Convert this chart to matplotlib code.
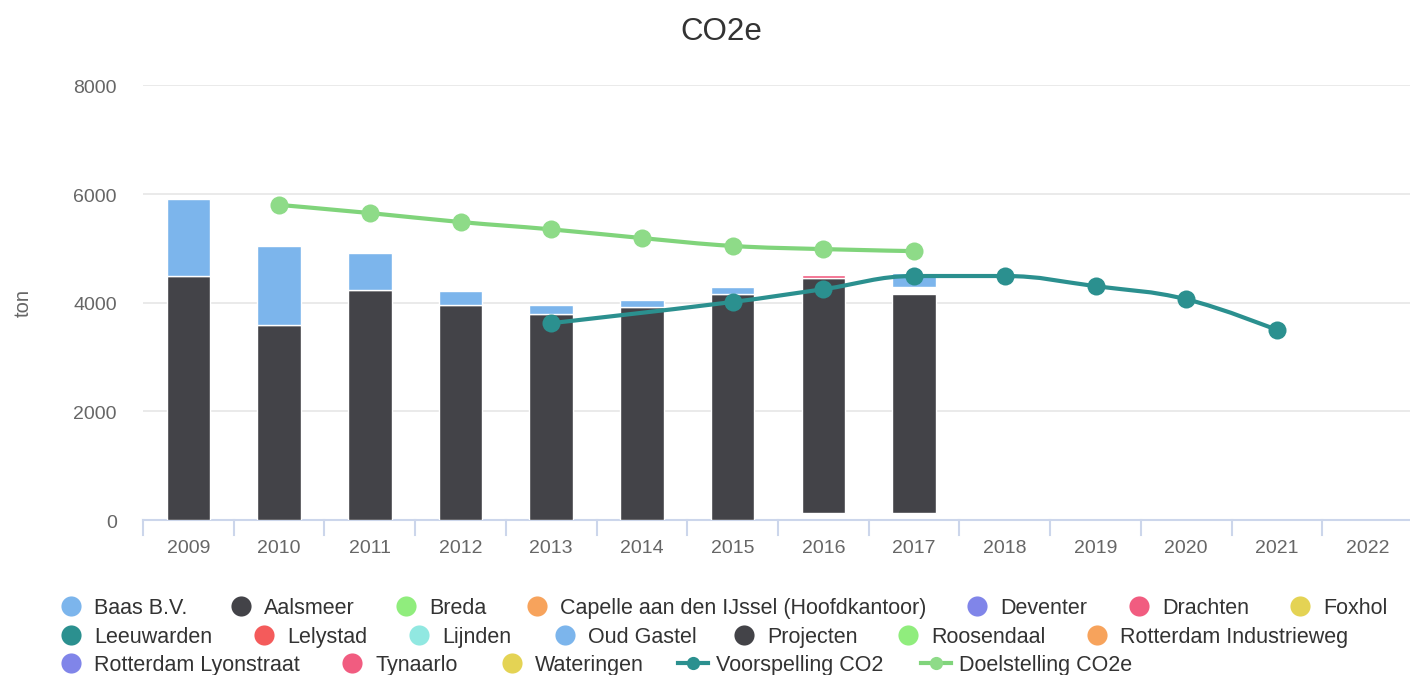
import numpy as np
import matplotlib
matplotlib.use("Agg")
import matplotlib.pyplot as plt
import matplotlib.transforms as mtransforms
from matplotlib.path import Path
from matplotlib.patches import PathPatch
from matplotlib.lines import Line2D

plt.rcParams['font.family'] = ['Liberation Sans', 'DejaVu Sans']

# ---------------- data ----------------
categories = ['2009', '2010', '2011', '2012', '2013', '2014', '2015',
              '2016', '2017', '2018', '2019', '2020', '2021', '2022']

# stacked column series (tons CO2e); zeros where a series has no value
aalsmeer   = [4490, 3590, 4230, 3950, 3795, 3925, 4155, 0, 0, 0, 0, 0, 0, 0]
baas_bv    = [1410, 1450, 680, 265, 165, 130, 135, 0, 0, 0, 0, 0, 0, 0]
projecten  = [0, 0, 0, 0, 0, 0, 0, 4315, 4025, 0, 0, 0, 0, 0]
drachten   = [0, 0, 0, 0, 0, 0, 0, 65, 0, 0, 0, 0, 0, 0]
oud_gastel = [0, 0, 0, 0, 0, 0, 0, 0, 257, 0, 0, 0, 0, 0]
# empty (unfilled) parts of the 2016/2017 stacks
leeg_onder  = [0, 0, 0, 0, 0, 0, 0, 130, 130, 0, 0, 0, 0, 0]
leeg_midden = [0, 0, 0, 0, 0, 0, 0, 0, 130, 0, 0, 0, 0, 0]

# line series (None = no point)
voorspelling_co2 = [None, None, None, None, 3620, None, 4010, 4245, 4487, 4487, 4300, 4060, 3494, None]
doelstelling_co2e = [None, 5795, 5645, 5480, 5345, 5185, 5040, 4982, 4945, None, None, None, None, None]

legend_names = ['Baas B.V.', 'Aalsmeer', 'Breda', 'Capelle aan den IJssel (Hoofdkantoor)',
                'Deventer', 'Drachten', 'Foxhol', 'Leeuwarden', 'Lelystad', 'Lijnden',
                'Oud Gastel', 'Projecten', 'Roosendaal', 'Rotterdam Industrieweg',
                'Rotterdam Lyonstraat', 'Tynaarlo', 'Wateringen',
                'Voorspelling CO2', 'Doelstelling CO2e']

# ---------------- style ----------------
C = {
    'Baas B.V.': '#7cb5ec', 'Aalsmeer': '#434348', 'Breda': '#90ed7d',
    'Capelle aan den IJssel (Hoofdkantoor)': '#f7a35c', 'Deventer': '#8085e9',
    'Drachten': '#f15c80', 'Foxhol': '#e4d354', 'Leeuwarden': '#2b908f',
    'Lelystad': '#f45b5b', 'Lijnden': '#91e8e1', 'Oud Gastel': '#7cb5ec',
    'Projecten': '#434348', 'Roosendaal': '#90ed7d',
    'Rotterdam Industrieweg': '#f7a35c', 'Rotterdam Lyonstraat': '#8085e9',
    'Tynaarlo': '#f15c80', 'Wateringen': '#e4d354',
    'Voorspelling CO2': '#2b908f', 'Doelstelling CO2e': '#80d47b',
}
GREEN_MARKER = '#8edb88'

W, H = 1410, 675
fig = plt.figure(figsize=(W / 100, H / 100), dpi=100)
pix = mtransforms.Affine2D().scale(1 / W, -1 / H).translate(0, 1) + fig.transFigure

ax = fig.add_axes([143 / W, (H - 520) / H, 1270 / W, 435 / H])
ax.set_xlim(-0.5, len(categories) - 0.5)
ax.set_ylim(0, 8000)
ax.set_yticks([0, 2000, 4000, 6000, 8000])
ax.yaxis.grid(True, color='#e6e6e6', lw=1.2, zorder=0)
ax.set_axisbelow(True)
ax.tick_params(length=0, labelleft=False, labelbottom=False)
for s in ['top', 'right', 'left']:
    ax.spines[s].set_visible(False)
ax.spines['bottom'].set_color('#ccd6eb')
ax.spines['bottom'].set_linewidth(1.5)
ax.spines['bottom'].set_zorder(1)

x = np.arange(len(categories))
bw = 0.48
bottom = np.zeros(len(categories))
stack = [(leeg_onder, None), (aalsmeer, C['Aalsmeer']), (projecten, C['Projecten']),
         (leeg_midden, None), (drachten, C['Drachten']), (baas_bv, C['Baas B.V.']),
         (oud_gastel, C['Oud Gastel'])]
for vals, col in stack:
    v = np.array(vals, dtype=float)
    m = v > 0
    if col is not None:
        ax.bar(x[m], v[m], bw, bottom=bottom[m], color=col, edgecolor='white',
               linewidth=1, zorder=2)
    bottom += v


def hc_spline(xs, ys, smoothing=1.5):
    n = len(xs)
    denom = smoothing + 1
    left = [None] * n
    right = [None] * n
    for i in range(n):
        px, py = xs[i], ys[i]
        if 0 < i < n - 1:
            lx, ly = xs[i - 1], ys[i - 1]
            nx, ny = xs[i + 1], ys[i + 1]
            lcx = (smoothing * px + lx) / denom
            lcy = (smoothing * py + ly) / denom
            rcx = (smoothing * px + nx) / denom
            rcy = (smoothing * py + ny) / denom
            if rcx != lcx:
                corr = ((rcy - lcy) * (rcx - px)) / (rcx - lcx) + py - rcy
                lcy += corr
                rcy += corr
            if lcy > ly and lcy > py:
                lcy = max(ly, py); rcy = 2 * py - lcy
            elif lcy < ly and lcy < py:
                lcy = min(ly, py); rcy = 2 * py - lcy
            if rcy > ny and rcy > py:
                rcy = max(ny, py); lcy = 2 * py - rcy
            elif rcy < ny and rcy < py:
                rcy = min(ny, py); lcy = 2 * py - rcy
            left[i] = (lcx, lcy)
            right[i] = (rcx, rcy)
        else:
            left[i] = (px, py)
            right[i] = (px, py)
    verts = [(xs[0], ys[0])]
    codes = [Path.MOVETO]
    for i in range(1, n):
        verts += [right[i - 1], left[i], (xs[i], ys[i])]
        codes += [Path.CURVE4] * 3
    return Path(verts, codes)


def draw_spline(vals, color, mcolor, lw=3, ms=13):
    xs = [i for i, v in enumerate(vals) if v is not None]
    ys = [v for v in vals if v is not None]
    p = hc_spline(xs, ys)
    ax.add_patch(PathPatch(p, fill=False, edgecolor=color, lw=lw, zorder=4,
                           capstyle='round', joinstyle='round'))
    ax.plot(xs, ys, 'o', color=mcolor, ms=ms, mew=0, zorder=5)


draw_spline(doelstelling_co2e, C['Doelstelling CO2e'], GREEN_MARKER)
draw_spline(voorspelling_co2, C['Voorspelling CO2'], C['Voorspelling CO2'])

# x ticks (between categories) and labels
xt = mtransforms.blended_transform_factory(ax.transData, pix)
for b in np.arange(-0.5, len(categories), 1.0):
    fig.add_artist(Line2D([b, b], [520, 535], color='#ccd6eb', lw=1.5,
                          transform=xt, clip_on=False))
for i, lab in enumerate(categories):
    fig.text(i, 553, lab, transform=xt, ha='center', va='baseline',
             fontsize=14, color='#666666')

# y labels
yt = mtransforms.blended_transform_factory(
    pix, ax.transData + mtransforms.ScaledTranslation(0, -8 / 100, fig.dpi_scale_trans))
for v in [0, 2000, 4000, 6000, 8000]:
    fig.text(117, v, f'{v}', transform=yt, ha='right', va='baseline',
             fontsize=14, color='#666666')

fig.text(23, 303, 'ton', transform=pix, rotation=90, ha='center', va='center',
         fontsize=14.5, color='#666666')

# title
fig.text(721, 40.5, 'CO2e', transform=pix, ha='center', va='baseline',
         fontsize=22.5, color='#333333')

# legend (manual flow layout like the reference)
rows = [606, 635, 663]
legend_pos = {
    'Baas B.V.': (0, 94), 'Aalsmeer': (0, 264), 'Breda': (0, 429),
    'Capelle aan den IJssel (Hoofdkantoor)': (0, 560), 'Deventer': (0, 1000),
    'Drachten': (0, 1162), 'Foxhol': (0, 1323),
    'Leeuwarden': (1, 94), 'Lelystad': (1, 287), 'Lijnden': (1, 442),
    'Oud Gastel': (1, 588), 'Projecten': (1, 767), 'Roosendaal': (1, 931),
    'Rotterdam Industrieweg': (1, 1120),
    'Rotterdam Lyonstraat': (2, 94), 'Tynaarlo': (2, 375), 'Wateringen': (2, 535),
    'Voorspelling CO2': (2, 716), 'Doelstelling CO2e': (2, 959),
}
for name in legend_names:
    r, tx = legend_pos[name]
    yc = rows[r]
    col = C[name]
    if name in ('Voorspelling CO2', 'Doelstelling CO2e'):
        mc = GREEN_MARKER if name == 'Doelstelling CO2e' else col
        fig.add_artist(Line2D([tx - 38, tx - 8], [yc, yc], color=col, lw=3,
                              transform=pix))
        fig.add_artist(Line2D([tx - 23], [yc], marker='o', ms=9.5, color=mc,
                              mew=0, transform=pix))
    else:
        fig.add_artist(Line2D([tx - 23], [yc], marker='o', ms=14.5, color=col,
                              mew=0, transform=pix))
    fig.text(tx, yc + 8, name, transform=pix, ha='left', va='baseline',
             fontsize=15.5, color='#333333')

fig.savefig('out.png', dpi=100)
